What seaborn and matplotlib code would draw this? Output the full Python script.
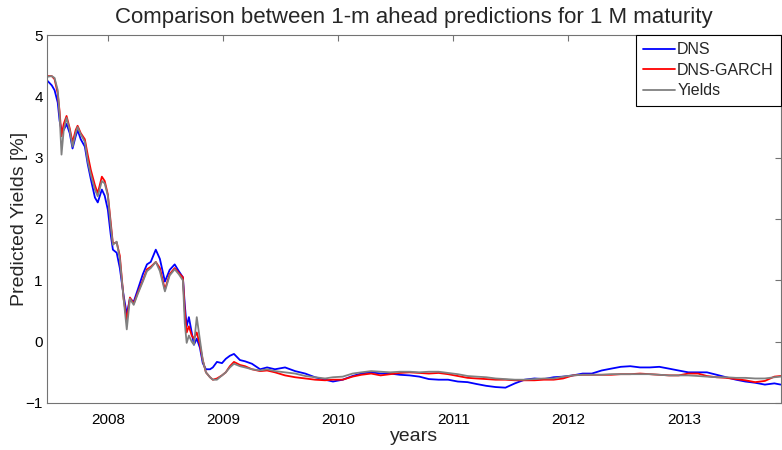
import numpy as np
import pandas as pd
import matplotlib
matplotlib.use("Agg")
import matplotlib.pyplot as plt
import matplotlib.dates as mdates
import seaborn as sns

# sampled dates (denser through the 2007-2008 fall)
dates = [
    "2007-06-24", "2007-07-07", "2007-07-16", "2007-07-26", "2007-08-01", "2007-08-07",
    "2007-08-14", "2007-08-23", "2007-09-02", "2007-09-11", "2007-09-21", "2007-09-27",
    "2007-10-07", "2007-10-20", "2007-10-29", "2007-11-08", "2007-11-21", "2007-11-30",
    "2007-12-13", "2007-12-22", "2008-01-01", "2008-01-10", "2008-01-17", "2008-01-29",
    "2008-02-08", "2008-02-20", "2008-03-01", "2008-03-11", "2008-03-23", "2008-04-05",
    "2008-04-21", "2008-05-04", "2008-05-16", "2008-06-01", "2008-06-14", "2008-06-30",
    "2008-07-15", "2008-07-31", "2008-08-13", "2008-08-26", "2008-09-01", "2008-09-07",
    "2008-09-14", "2008-09-23", "2008-09-30", "2008-10-09", "2008-10-19", "2008-10-28",
    "2008-11-07", "2008-11-20", "2008-11-29", "2008-12-12", "2008-12-28", "2009-01-09",
    "2009-01-22", "2009-02-04", "2009-02-23", "2009-03-11", "2009-04-02", "2009-04-28",
    "2009-05-20", "2009-06-14", "2009-07-16", "2009-08-17", "2009-09-18", "2009-10-19",
    "2009-11-20", "2009-12-15",
    "2010-01-15", "2010-02-15", "2010-03-15", "2010-04-15", "2010-05-15", "2010-06-15",
    "2010-07-15", "2010-08-15", "2010-09-15", "2010-10-15", "2010-11-15", "2010-12-15",
    "2011-01-15", "2011-02-15", "2011-03-15", "2011-04-15", "2011-05-15", "2011-06-15",
    "2011-07-15", "2011-08-15", "2011-09-15", "2011-10-15", "2011-11-15", "2011-12-15",
    "2012-01-15", "2012-02-15", "2012-03-15", "2012-04-15", "2012-05-15", "2012-06-15",
    "2012-07-15", "2012-08-15", "2012-09-15", "2012-10-15", "2012-11-15", "2012-12-15",
    "2013-01-15", "2013-02-15", "2013-03-15", "2013-04-15", "2013-05-15", "2013-06-15",
    "2013-07-15", "2013-08-15", "2013-09-15", "2013-10-15", "2013-11-04",
]

dns = [
    4.25, 4.18, 4.10, 3.90, 3.60, 3.45, 3.45, 3.55, 3.40, 3.15, 3.35, 3.45,
    3.30, 3.18, 2.90, 2.65, 2.35, 2.27, 2.48, 2.38, 2.15, 1.75, 1.50, 1.45,
    1.20, 0.75, 0.45, 0.70, 0.65, 0.85, 1.10, 1.26, 1.30, 1.50, 1.35, 0.98,
    1.17, 1.26, 1.15, 1.05, 0.60, 0.25, 0.40, 0.15, -0.05, 0.05, -0.10, -0.35,
    -0.45, -0.45, -0.42, -0.33, -0.35, -0.28, -0.23, -0.20, -0.30, -0.32, -0.36, -0.45,
    -0.42, -0.45, -0.42, -0.48, -0.52, -0.58, -0.62, -0.65,
    -0.62, -0.56, -0.52, -0.50, -0.52, -0.52, -0.54, -0.55, -0.57, -0.61, -0.62, -0.62,
    -0.65, -0.66, -0.69, -0.72, -0.74, -0.75, -0.68, -0.62, -0.60, -0.61, -0.58, -0.57,
    -0.55, -0.52, -0.52, -0.47, -0.44, -0.41, -0.40, -0.42, -0.42, -0.41, -0.44, -0.47,
    -0.50, -0.50, -0.50, -0.54, -0.58, -0.62, -0.65, -0.67, -0.70, -0.68, -0.70,
]

dns_garch = [
    4.33, 4.33, 4.28, 4.05, 3.75, 3.35, 3.55, 3.68, 3.48, 3.25, 3.45, 3.52,
    3.40, 3.30, 3.05, 2.80, 2.55, 2.42, 2.69, 2.62, 2.40, 1.95, 1.60, 1.62,
    1.40, 0.70, 0.35, 0.72, 0.62, 0.80, 1.00, 1.18, 1.22, 1.30, 1.20, 0.85,
    1.10, 1.20, 1.12, 1.05, 0.50, 0.15, 0.25, 0.10, 0.05, 0.15, -0.05, -0.30,
    -0.50, -0.58, -0.62, -0.60, -0.55, -0.50, -0.40, -0.33, -0.38, -0.40, -0.45, -0.48,
    -0.47, -0.50, -0.55, -0.58, -0.60, -0.62, -0.63, -0.62,
    -0.62, -0.57, -0.54, -0.52, -0.55, -0.53, -0.51, -0.50, -0.51, -0.52, -0.51, -0.53,
    -0.56, -0.59, -0.60, -0.61, -0.62, -0.62, -0.63, -0.63, -0.63, -0.62, -0.62, -0.60,
    -0.55, -0.54, -0.54, -0.54, -0.54, -0.53, -0.53, -0.52, -0.53, -0.54, -0.55, -0.55,
    -0.52, -0.52, -0.56, -0.58, -0.59, -0.61, -0.63, -0.66, -0.64, -0.57, -0.56,
]

yields = [
    4.32, 4.33, 4.30, 4.10, 3.70, 3.05, 3.45, 3.65, 3.45, 3.18, 3.40, 3.50,
    3.38, 3.26, 2.95, 2.72, 2.48, 2.37, 2.62, 2.58, 2.38, 1.90, 1.58, 1.63,
    1.35, 0.70, 0.20, 0.70, 0.60, 0.78, 0.98, 1.15, 1.20, 1.30, 1.15, 0.82,
    1.08, 1.18, 1.10, 1.00, 0.30, -0.02, 0.10, 0.00, -0.05, 0.40, 0.03, -0.30,
    -0.50, -0.58, -0.62, -0.62, -0.55, -0.50, -0.42, -0.36, -0.40, -0.42, -0.45, -0.47,
    -0.45, -0.48, -0.50, -0.52, -0.56, -0.58, -0.60, -0.58,
    -0.57, -0.52, -0.50, -0.48, -0.49, -0.50, -0.49, -0.49, -0.50, -0.49, -0.49, -0.51,
    -0.53, -0.56, -0.57, -0.58, -0.60, -0.61, -0.62, -0.62, -0.61, -0.60, -0.60, -0.57,
    -0.55, -0.54, -0.54, -0.54, -0.53, -0.53, -0.53, -0.53, -0.53, -0.54, -0.55, -0.55,
    -0.55, -0.56, -0.57, -0.58, -0.58, -0.59, -0.59, -0.60, -0.60, -0.58, -0.57,
]

series_names = ["DNS", "DNS-GARCH", "Yields"]
colors = ["#0000ff", "#ff0000", "#808080"]

d = pd.to_datetime(dates)
df = pd.concat([
    pd.DataFrame({"date": d, "value": dns, "series": "DNS"}),
    pd.DataFrame({"date": d, "value": dns_garch, "series": "DNS-GARCH"}),
    pd.DataFrame({"date": d, "value": yields, "series": "Yields"}),
])

sns.set_style("white")
plt.rcParams["font.family"] = ["Liberation Sans", "DejaVu Sans"]

fig = plt.figure(figsize=(7.82, 4.5), dpi=100)
ax = fig.add_axes([47 / 782, 47 / 450, 734 / 782, 368 / 450])

sns.lineplot(data=df, x="date", y="value", hue="series", hue_order=series_names,
             palette=dict(zip(series_names, colors)), linewidth=1.3, ax=ax, legend=False)

ax.set_xlim(pd.Timestamp("2007-06-22"), pd.Timestamp("2013-11-05"))
ax.set_ylim(-1, 5)
ax.xaxis.set_major_locator(mdates.YearLocator())
ax.xaxis.set_major_formatter(mdates.DateFormatter("%Y"))
ax.set_yticks([-1, 0, 1, 2, 3, 4, 5])

ax.tick_params(direction="in", top=True, right=True, length=4, width=0.8,
               labelsize=11, colors="0.45", labelcolor="black")
ax.tick_params(axis="x", pad=7)
ax.tick_params(axis="y", pad=3)
for s in ax.spines.values():
    s.set_visible(True)
    s.set_color("0.45")
    s.set_linewidth(0.8)

ax.set_xlabel("years", fontsize=14, labelpad=1)
ax.set_ylabel("Predicted Yields [%]", fontsize=14, labelpad=-2)
ax.set_title("Comparison between 1-m ahead predictions for 1 M maturity", fontsize=16, pad=9)

handles = [plt.Line2D([], [], color=c, lw=1.3) for c in colors]
leg = ax.legend(handles, series_names, loc="upper right", borderaxespad=0, fontsize=11.5,
                frameon=True, fancybox=False, edgecolor="black", framealpha=1,
                handlelength=2.0, handletextpad=0.15, labelspacing=0.35, borderpad=0.45)
leg.get_frame().set_linewidth(0.8)

fig.savefig("out.png", dpi=100)
